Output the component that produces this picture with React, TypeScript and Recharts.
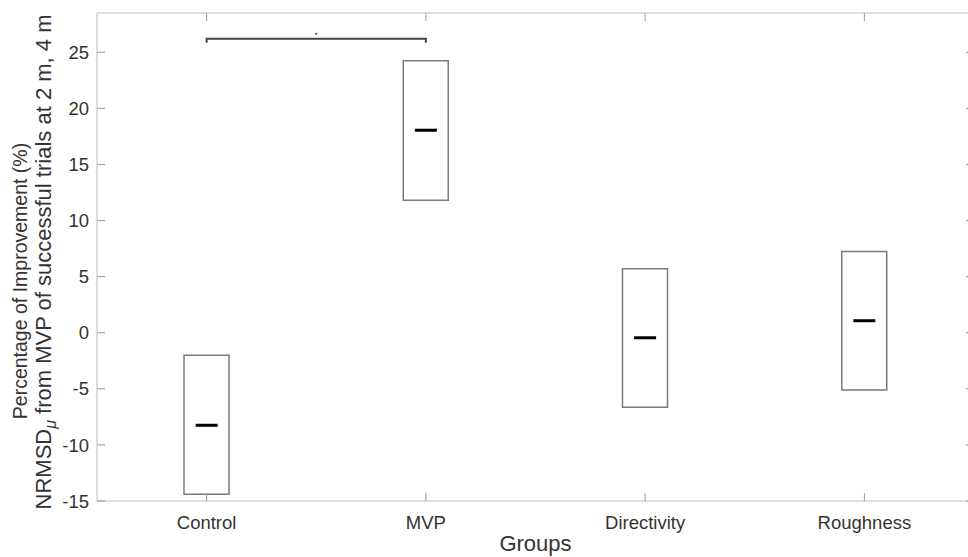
import React from 'react';
import { ComposedChart, Bar, Scatter, XAxis, YAxis } from 'recharts';

// ---- data ----
const groups = ['Control', 'MVP', 'Directivity', 'Roughness'];
const boxLow = [-14.4, 11.8, -6.65, -5.1];
const boxHigh = [-2.0, 24.25, 5.7, 7.25];
const medians = [-8.25, 18.05, -0.45, 1.07];
const yTicks = [-15, -10, -5, 0, 5, 10, 15, 20, 25];
const yDomain = [-15, 28.5];
const bracketFrom = 1; // Control
const bracketTo = 2; // MVP
const bracketLevel = 26.2;
const bracketFoot = 25.85;
const sigMarkerLevel = 26.65;

const boxData = groups.map((g, i) => ({ group: g, box: [boxLow[i], boxHigh[i]] }));
const medianData = groups.map((g, i) => ({ pos: i + 1, median: medians[i] }));
const bracketData = [
  { pos: bracketFrom, y: bracketFoot },
  { pos: bracketFrom, y: bracketLevel },
  { pos: bracketTo, y: bracketLevel },
  { pos: bracketTo, y: bracketFoot },
];
const sigData = [{ pos: (bracketFrom + bracketTo) / 2, y: sigMarkerLevel }];

const FONT = '"Liberation Sans", Arial, Helvetica, sans-serif';
const TEXT = '#333333';
const AXIS = '#bdbdbd';
const TICK = '#9a9a9a';
const TICK_FS = 18.5;
const LABEL_FS = 22;

const BottomTick = (p: any) => (
  <g>
    <line x1={p.x} y1={p.y} x2={p.x} y2={p.y - 8} stroke={TICK} strokeWidth={1} />
    <text x={p.x} y={p.y + 28} textAnchor="middle" fontSize={TICK_FS} fontFamily={FONT} fill={TEXT}>
      {p.payload.value}
    </text>
  </g>
);
const TopTick = (p: any) => (
  <line x1={p.x} y1={p.y} x2={p.x} y2={p.y + 8} stroke={TICK} strokeWidth={1} />
);
const LeftTick = (p: any) => (
  <g>
    <line x1={p.x} y1={p.y} x2={p.x + 8} y2={p.y} stroke={TICK} strokeWidth={1} />
    <text x={p.x - 8} y={p.y} dy="0.36em" textAnchor="end" fontSize={TICK_FS} fontFamily={FONT} fill={TEXT}>
      {p.payload.value}
    </text>
  </g>
);
const RightTick = (p: any) => (
  <line x1={p.x} y1={p.y} x2={p.x - 8} y2={p.y} stroke={TICK} strokeWidth={1} />
);

const MedianShape = (p: any) => (
  <line x1={p.cx - 11} y1={p.cy} x2={p.cx + 11} y2={p.cy} stroke="#000" strokeWidth={3} />
);
const NoShape = () => <g />;
const SigShape = (p: any) => <circle cx={p.cx} cy={p.cy} r={1.1} fill="#444" />;

const renderXLabel = (props: any) => {
  const vb = props.viewBox || {};
  return (
    <text x={vb.x + vb.width / 2} y={vb.y + 50} textAnchor="middle" fontSize={LABEL_FS} fontFamily={FONT} fill={TEXT}>
      Groups
    </text>
  );
};

const renderYLabel = (props: any) => {
  const vb = props.viewBox || {};
  const mid = vb.y + vb.height / 2;
  return (
    <g>
      <text transform={`translate(27, ${mid + 24}) rotate(-90)`} textAnchor="middle" fontSize={19.5} fontFamily={FONT} fill={TEXT}>
        Percentage of Improvement (%)
      </text>
      <text transform={`translate(51, ${mid + 5}) rotate(-90)`} textAnchor="middle" fontSize={LABEL_FS} fontFamily={FONT} fill={TEXT}>
        NRMSD
        <tspan fontStyle="italic" fontSize={16} dy={5}>μ</tspan>
        <tspan dy={-5}> from MVP of successful trials at 2 m, 4 m</tspan>
      </text>
    </g>
  );
};

export default function App() {
  return (
    <div style={{ position: 'fixed', left: 0, top: 0, width: 968, height: 557, overflow: 'hidden', background: '#fff' }}>
      <ComposedChart width={990} height={557} data={boxData} margin={{ top: 12, right: 0, bottom: 1, left: 0 }}>
        <XAxis
          xAxisId="cat"
          dataKey="group"
          type="category"
          height={55}
          tickSize={0}
          tickMargin={0}
          tickLine={false}
          axisLine={{ stroke: AXIS, strokeWidth: 1 }}
          tick={<BottomTick />}
          interval={0}
          label={renderXLabel}
        />
        <XAxis
          xAxisId="top"
          dataKey="group"
          type="category"
          orientation="top"
          height={1}
          tickSize={0}
          tickMargin={0}
          tickLine={false}
          axisLine={{ stroke: AXIS, strokeWidth: 1 }}
          tick={<TopTick />}
          interval={0}
        />
        <XAxis xAxisId="num" dataKey="pos" type="number" domain={[0.5, 4.5]} allowDataOverflow hide />
        <YAxis
          yAxisId="l"
          type="number"
          domain={yDomain}
          ticks={yTicks}
          allowDataOverflow
          width={97}
          tickSize={0}
          tickMargin={0}
          tickLine={false}
          axisLine={{ stroke: AXIS, strokeWidth: 1 }}
          tick={<LeftTick />}
          interval={0}
          label={renderYLabel}
        />
        <YAxis
          yAxisId="r"
          orientation="right"
          type="number"
          domain={yDomain}
          ticks={yTicks}
          allowDataOverflow
          width={16}
          tickSize={0}
          tickMargin={0}
          tickLine={false}
          axisLine={{ stroke: AXIS, strokeWidth: 1 }}
          tick={<RightTick />}
          interval={0}
        />
        <Bar
          xAxisId="cat"
          yAxisId="l"
          dataKey="box"
          barSize={45}
          fill="#ffffff"
          stroke="#7a7a7a"
          strokeWidth={1.5}
          isAnimationActive={false}
        />
        <Scatter
          xAxisId="num"
          yAxisId="l"
          data={medianData}
          dataKey="median"
          shape={<MedianShape />}
          isAnimationActive={false}
        />
        <Scatter
          xAxisId="num"
          yAxisId="l"
          data={bracketData}
          dataKey="y"
          line={{ stroke: '#444', strokeWidth: 2 }}
          lineType="joint"
          shape={<NoShape />}
          isAnimationActive={false}
        />
        <Scatter
          xAxisId="num"
          yAxisId="l"
          data={sigData}
          dataKey="y"
          shape={<SigShape />}
          isAnimationActive={false}
        />
      </ComposedChart>
    </div>
  );
}
